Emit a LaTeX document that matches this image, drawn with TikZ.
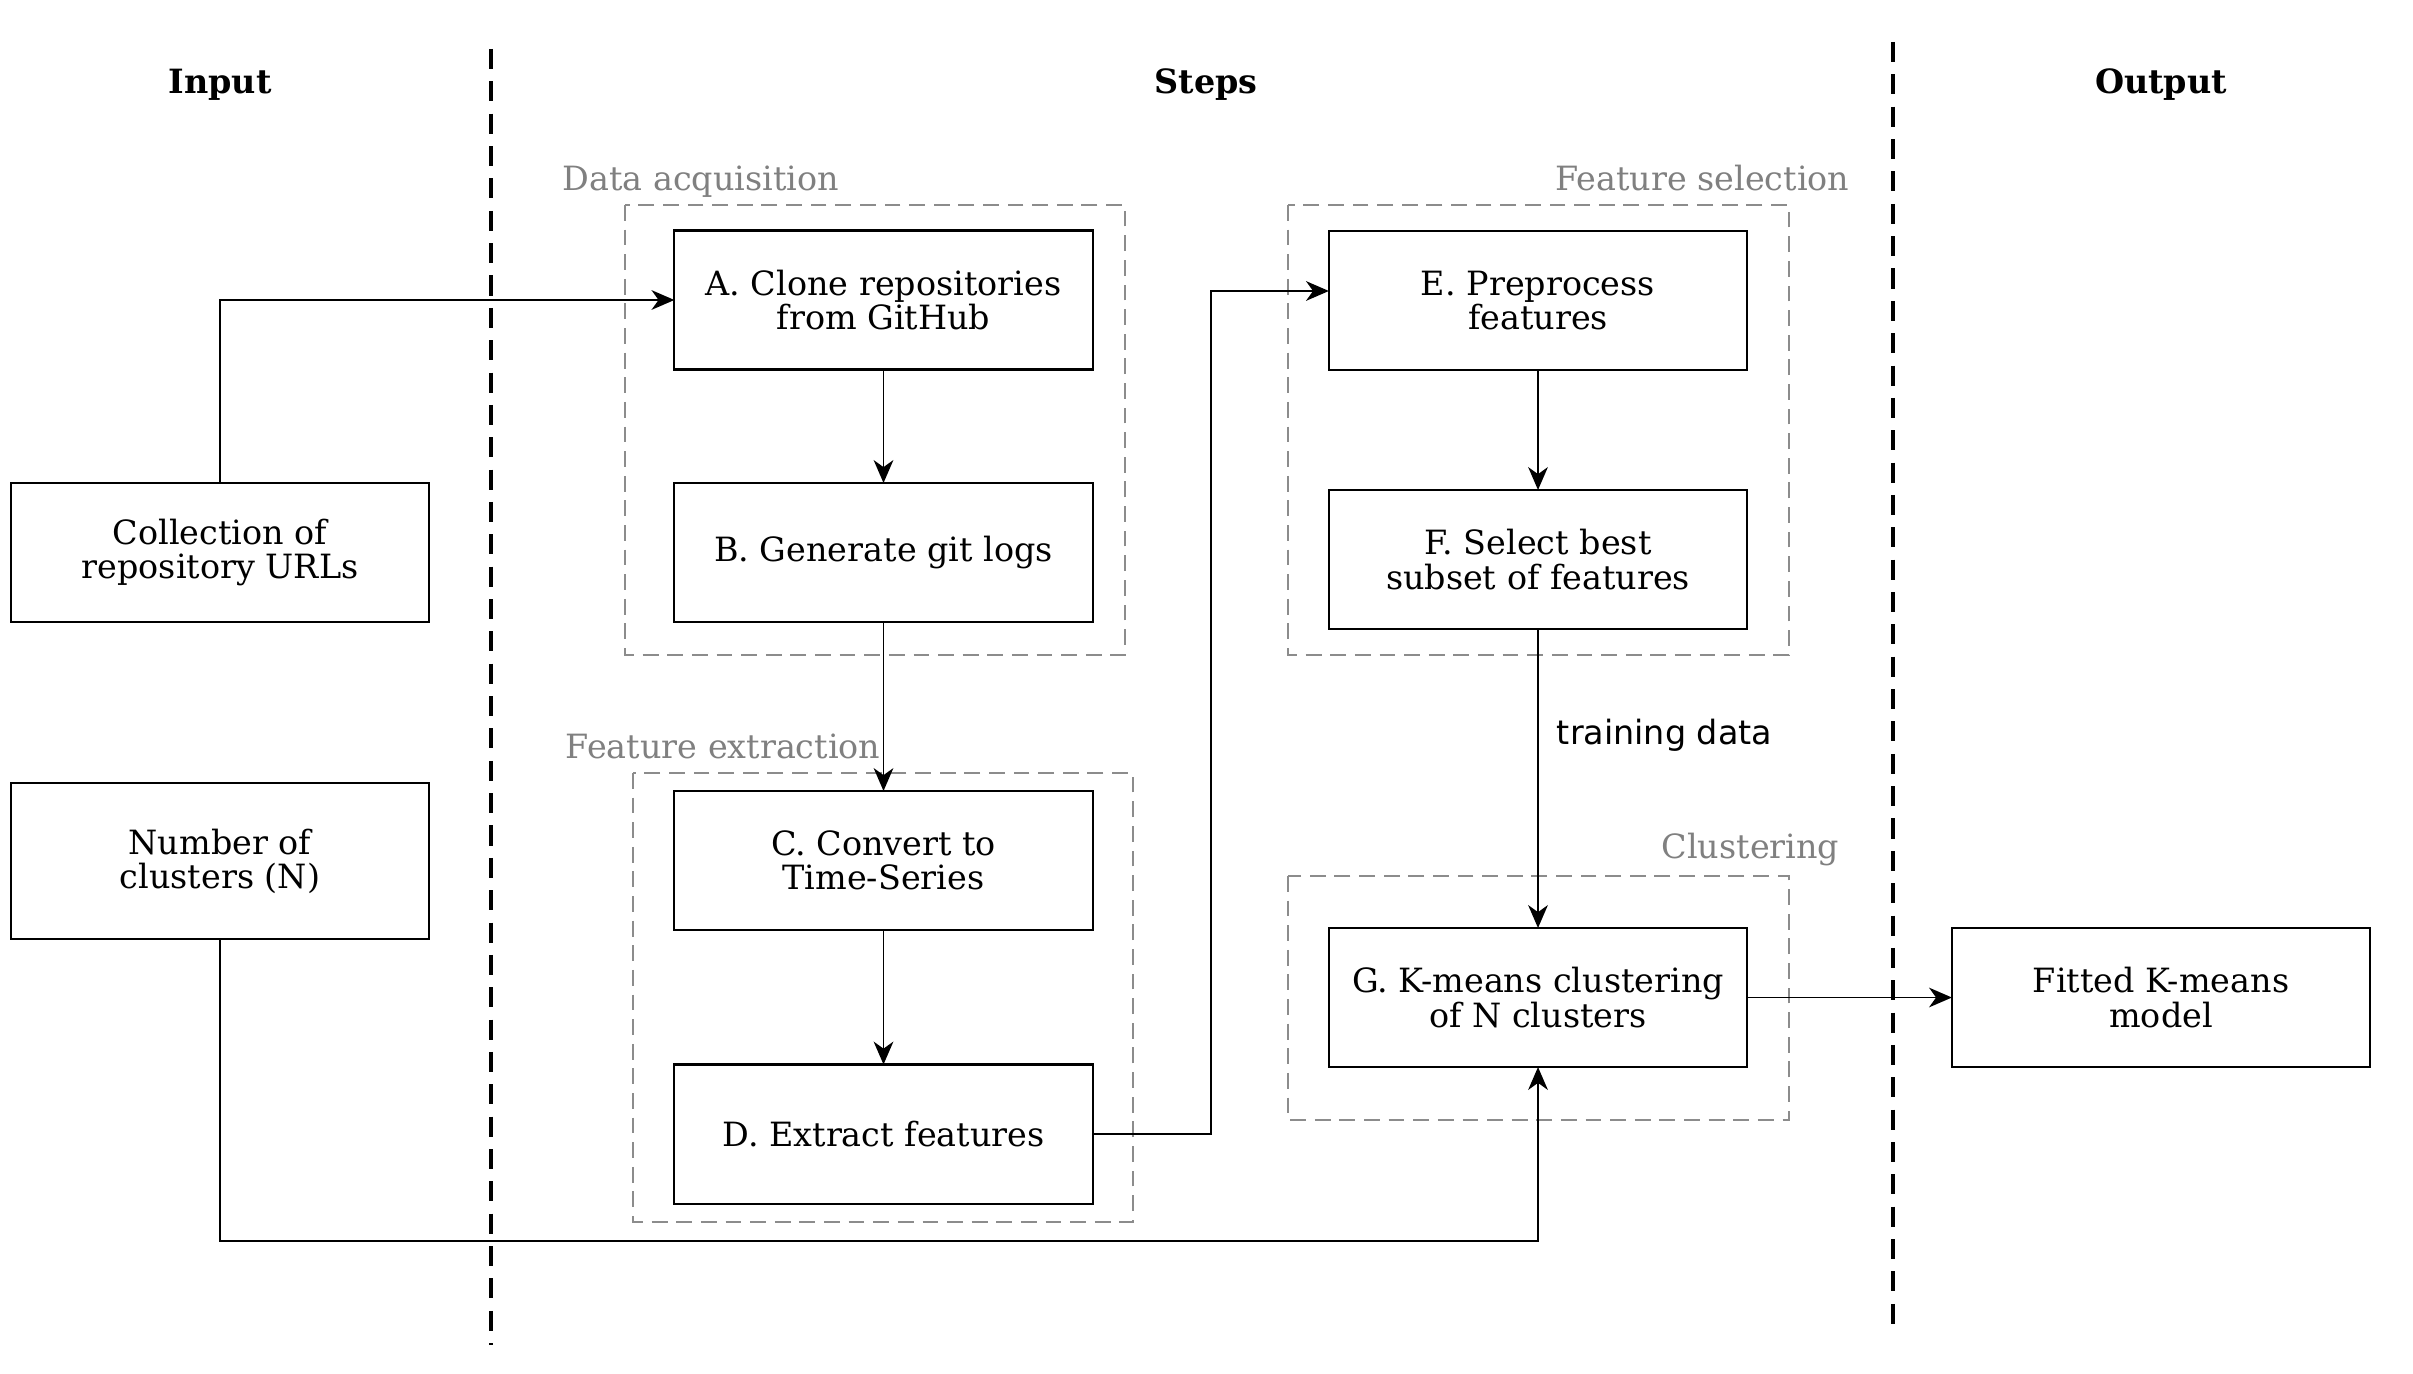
\documentclass[tikz,border=0pt]{standalone}
\usepackage{fontspec}
\setmainfont{DejaVu Serif}
\newfontfamily\labelsans{DejaVu Sans}
\usetikzlibrary{arrows.meta}

\begin{document}
\begin{tikzpicture}[x=0.01cm,y=-0.01cm,
  stepbox/.style={draw=black, line width=0.6pt, minimum width=4.18cm, minimum height=1.39cm,
    inner sep=0pt, outer sep=0pt, align=center, font=\fontsize{9.5}{9.7}\selectfont},
  groupbox/.style={draw=black!45, dash pattern=on 4.5pt off 2.5pt, line width=0.45pt},
  grouplabel/.style={text=black!50, font=\fontsize{9.5}{10}\selectfont, inner sep=0pt},
  heading/.style={font=\bfseries\fontsize{9.5}{10}\selectfont, inner sep=0pt},
  divider/.style={line width=0.9pt, dash pattern=on 5.7pt off 3.5pt},
  link/.style={line width=0.5pt, -{Stealth[length=6.5pt,width=5.6pt,inset=2pt]}},
  edgelabel/.style={font=\labelsans\fontsize{9.5}{10}\selectfont, inner sep=0pt, anchor=west},
]
\useasboundingbox (0,0) rectangle (2413,1373);

% column headings and separators
\node[heading] (hin) at (220,85) {Input};
\node[heading] (hsteps) at (1206,85) {Steps};
\node[heading] (hout) at (2161,85) {Output};
\draw[divider] (491,49) -- (491,1345);
\draw[divider] (1893,42) -- (1893,1333);

% stage groups
\draw[groupbox] (625,205) rectangle (1125,655);
\draw[groupbox] (633,773) rectangle (1133,1222);
\draw[groupbox] (1288,205) rectangle (1789,655);
\draw[groupbox] (1288,876) rectangle (1789,1120);
\node[grouplabel, anchor=west] (lacq) at (562,182) {Data acquisition};
\node[grouplabel, anchor=west] (lext) at (565,746) {Feature extraction};
\node[grouplabel, anchor=east] (lsel) at (1850,178) {Feature selection};
\node[grouplabel, anchor=east] (lclu) at (1840,850) {Clustering};

% inputs
\node[stepbox] (urls) at (220,552.5) {Collection of\\repository URLs};
\node[stepbox, minimum height=1.56cm] (nclus) at (220,861) {Number of\\clusters (N)};

% pipeline steps
\node[stepbox] (A) at (883.5,300) {A. Clone repositories\\from GitHub};
\node[stepbox] (B) at (883.5,552.5) {B. Generate git logs};
\node[stepbox] (C) at (883.5,860.5) {C. Convert to\\Time-Series};
\node[stepbox] (D) at (883.5,1134) {D. Extract features};
\node[stepbox] (E) at (1538,300.5) {E. Preprocess\\features};
\node[stepbox] (F) at (1538,559.5) {F. Select best\\subset of features};
\node[stepbox] (G) at (1538,997.5) {G. K-means clustering\\of N clusters};

% output
\node[stepbox] (fit) at (2161,997.5) {Fitted K-means\\model};

% connectors
\coordinate (dbend) at (1211,1134);
\coordinate (nbend) at (220,1241);
\draw[link] (urls.north) |- (A.west);
\draw[link] (A) -- (B);
\draw[link] (B) -- (C);
\draw[link] (C) -- (D);
\draw[link] (D.east) -- (dbend) |- ([yshift=0.095cm]E.west);
\draw[link] (E) -- (F);
\draw[link] (F) -- node[edgelabel, pos=0.355, xshift=0.18cm] (tdata) {training data} (G);
\draw[link] (nclus.south) -- (nbend) -| (G.south);
\draw[link] (G) -- (fit);
\end{tikzpicture}
\end{document}
